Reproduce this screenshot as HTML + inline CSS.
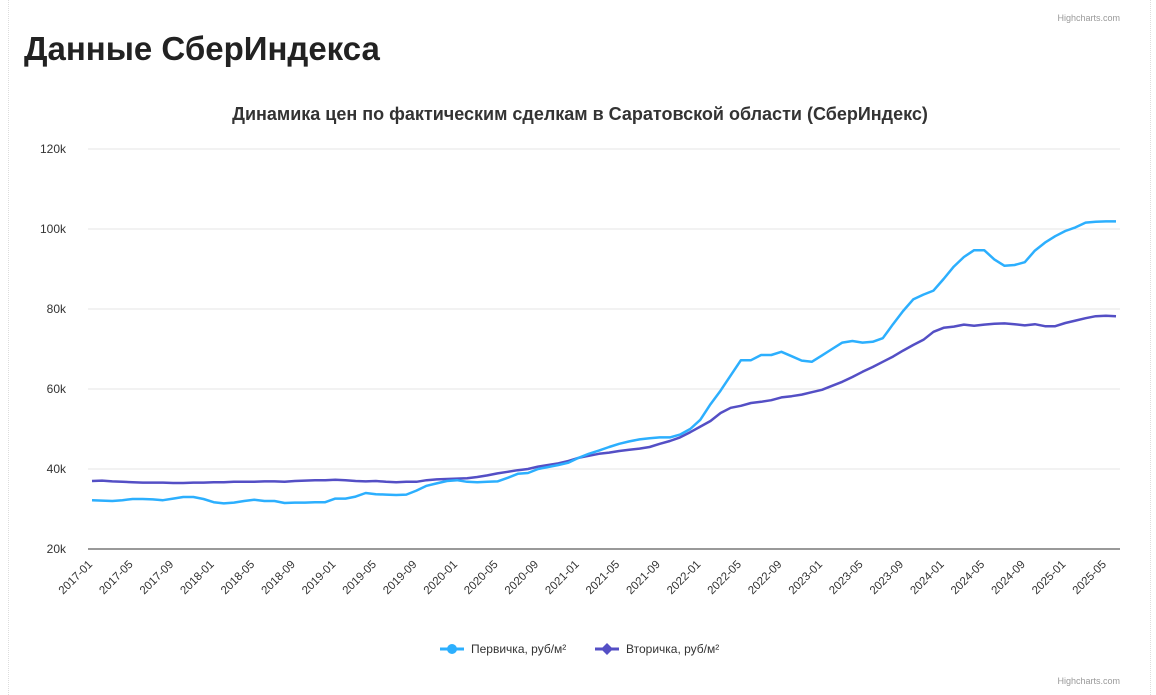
<!DOCTYPE html>
<html><head><meta charset="utf-8">
<style>
body{margin:0;width:1156px;height:695px;background:#fff;overflow:hidden;font-family:"Liberation Sans","DejaVu Sans",sans-serif;position:relative}
.bl{position:absolute;top:0;bottom:0;width:0;border-left:1px dotted #ddd}
h1{position:absolute;left:24px;top:30px;margin:0;font-size:33px;font-weight:bold;color:#222;font-family:"Liberation Sans","DejaVu Sans",sans-serif}
svg{position:absolute;left:0;top:0}
</style></head><body>
<div class="bl" style="left:8px"></div>
<div class="bl" style="left:1150px"></div>
<h1>Данные СберИндекса</h1>
<svg id="c" width="1156" height="695">
<text x="1120" y="21" text-anchor="end" font-size="9" fill="#999">Highcharts.com</text>
<text x="1120" y="684" text-anchor="end" font-size="9" fill="#999">Highcharts.com</text>
<text x="580" y="120" text-anchor="middle" font-size="18" font-weight="bold" fill="#333">Динамика цен по фактическим сделкам в Саратовской области (СберИндекс)</text>
<g id="grid"></g><g id="xl"></g><g id="series"></g>
<g>
<g>
<line x1="440" y1="649" x2="464" y2="649" stroke="#2caffe" stroke-width="3"/>
<circle cx="452" cy="649" r="5" fill="#2caffe"/>
<text x="471" y="653" font-size="12" fill="#333">Первичка, руб/м²</text></g>
<g>
<line x1="595" y1="649" x2="619" y2="649" stroke="#544fc5" stroke-width="3"/>
<path d="M607 643 L613 649 L607 655 L601 649Z" fill="#544fc5"/>
<text x="626" y="653" font-size="12" fill="#333">Вторичка, руб/м²</text></g>
</g>
</svg>
<script>
const primary=[32.2,32.1,32.0,32.2,32.5,32.5,32.4,32.2,32.6,33.0,33.0,32.5,31.7,31.4,31.6,32.0,32.3,32.0,32.0,31.5,31.6,31.6,31.7,31.7,32.6,32.6,33.1,34.0,33.7,33.6,33.5,33.6,34.6,35.8,36.4,37.0,37.2,36.8,36.7,36.8,36.9,37.8,38.8,39.0,40.0,40.5,41.0,41.6,42.8,43.8,44.6,45.5,46.3,46.9,47.4,47.7,47.9,47.9,48.6,50.0,52.3,56.2,59.6,63.4,67.2,67.2,68.5,68.5,69.3,68.2,67.1,66.8,68.4,70.0,71.6,72.0,71.6,71.8,72.7,76.2,79.5,82.4,83.6,84.6,87.5,90.6,93.0,94.7,94.7,92.4,90.8,91.0,91.7,94.6,96.6,98.2,99.5,100.4,101.6,101.8,101.9,101.9];
const secondary=[37.0,37.1,36.9,36.8,36.7,36.6,36.6,36.6,36.5,36.5,36.6,36.6,36.7,36.7,36.8,36.8,36.8,36.9,36.9,36.8,37.0,37.1,37.2,37.2,37.3,37.2,37.0,36.9,37.0,36.8,36.7,36.8,36.8,37.2,37.4,37.5,37.6,37.7,38.0,38.4,38.9,39.3,39.7,40.0,40.6,41.0,41.4,42.0,42.8,43.3,43.8,44.1,44.5,44.8,45.1,45.5,46.3,47.0,47.9,49.2,50.6,52.0,54.0,55.3,55.8,56.5,56.8,57.2,57.9,58.2,58.6,59.2,59.8,60.8,61.8,63.0,64.3,65.5,66.8,68.1,69.6,71.0,72.3,74.3,75.3,75.6,76.1,75.8,76.1,76.3,76.4,76.2,75.9,76.2,75.7,75.7,76.5,77.1,77.7,78.2,78.3,78.2];
const yTicks=[20,40,60,80,100,120];
const startYear=2017, startMonth=1, labelStep=4;
const NS='http://www.w3.org/2000/svg';
const N=primary.length;
const X=i=>92+i*(1024/(N-1));
const Y=v=>549-(v-20)*4;
function mk(t,a,p){const e=document.createElementNS(NS,t);for(const k in a)e.setAttribute(k,a[k]);p.appendChild(e);return e;}
const grid=document.getElementById('grid');
yTicks.forEach(v=>{
  const l=mk('line',{x1:88,x2:1120,y1:Y(v),y2:Y(v),stroke:v===20?'#333':'#e6e6e6','stroke-width':1},grid);
  
  
  const t=mk('text',{x:66,y:Y(v)+4,'text-anchor':'end','font-size':12,fill:'#333'},grid);
  t.textContent=v+'k';
  
  
});
const xl=document.getElementById('xl');
for(let i=0;i<N;i+=labelStep){
  const m=startMonth-1+i, yr=startYear+Math.floor(m/12), mo=m%12+1;
  const x=X(i)+1, y=565;
  const t=mk('text',{x:x,y:y,'text-anchor':'end','font-size':11.5,fill:'#333',transform:`rotate(-45 ${x} ${y})`},xl);
  t.textContent=yr+'-'+(mo<10?'0':'')+mo;
  
  
}
const sg=document.getElementById('series');
[[secondary,'#544fc5','series-secondary'],[primary,'#2caffe','series-primary']].forEach(([d,c,n])=>{
  const p=mk('path',{d:d.map((v,i)=>(i?'L':'M')+X(i).toFixed(1)+' '+Y(v).toFixed(1)).join(''),fill:'none',stroke:c,'stroke-width':2.5,'stroke-linejoin':'round'},sg);
  
  
});
</script>
</body></html>
